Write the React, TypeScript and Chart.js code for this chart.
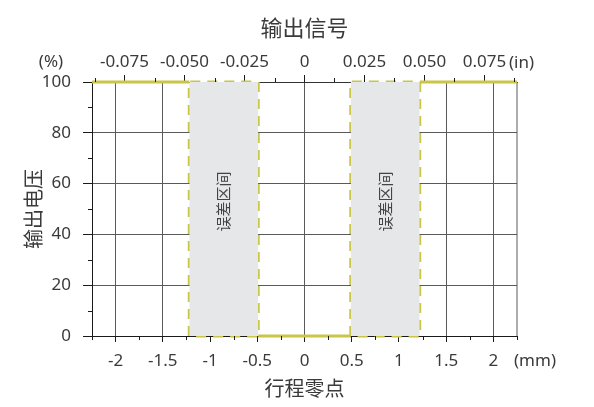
import { useEffect, useRef } from "react"
import { Chart, registerables } from "chart.js"

Chart.register(...registerables)

// axis ticks
const mmTicks = [-2, -1.5, -1, -0.5, 0, 0.5, 1, 1.5, 2]
const mmMinorTicks = [-2.25, -1.75, -1.25, -0.75, -0.25, 0.25, 0.75, 1.25, 1.75, 2.25]
const inchTicks = [-0.075, -0.05, -0.025, 0, 0.025, 0.05, 0.075]
const inchMinorTicks = [-0.0875, -0.0625, -0.0375, -0.0125, 0.0125, 0.0375, 0.0625, 0.0875]
const percentTicks = [0, 20, 40, 60, 80, 100]
const percentMinorTicks = [10, 30, 50, 70, 90]

const strokeMin = -2.25
const strokeMax = 2.25
const mmPerInch = 25.4

// output signal (mm -> %)
const highLeftX = [-2.25, -1.22]
const lowMiddleX = [-0.49, 0.49]
const highRightX = [1.22, 2.25]
const highLevel = 100
const lowLevel = 0

// tolerance zones
const zoneStarts = [-1.22, 0.49]
const zoneEnds = [-0.49, 1.22]
const zoneLabel = "误差区间"
const zoneLabelLevel = 53

const YELLOW = "#cac546"
const ZONE_GRAY = "#e6e7e8"
const GRID = "#5a5a5a"
const AXIS = "#1a1a1a"
const TEXT = "#3a3a3a"
const NUM_FONT = "'Noto Sans', 'Noto Sans CJK SC', sans-serif"
const CJK_FONT = "'Noto Sans CJK SC', sans-serif"

const toPoints = (xs: number[], y: number) => xs.map(x => ({ x, y }))

const extras = {
    id: "extras",
    beforeDatasetsDraw(chart: any) {
        const { ctx, chartArea } = chart
        ctx.save()
        ctx.strokeStyle = GRID
        ctx.lineWidth = 1
        ctx.beginPath()
        ctx.moveTo(chartArea.right, chartArea.top)
        ctx.lineTo(chartArea.right, chartArea.bottom)
        ctx.stroke()
        ctx.restore()
    },
    afterDatasetsDraw(chart: any) {
        const { ctx } = chart
        const xs = chart.scales.x
        const ys = chart.scales.y
        ctx.save()
        ctx.fillStyle = "#444"
        ctx.font = `15px ${CJK_FONT}`
        ctx.textAlign = "center"
        ctx.textBaseline = "middle"
        zoneStarts.forEach((s, i) => {
            const px = xs.getPixelForValue((s + zoneEnds[i]) / 2)
            const py = ys.getPixelForValue(zoneLabelLevel)
            ctx.save()
            ctx.translate(px, py)
            ctx.rotate(-Math.PI / 2)
            ctx.fillText(zoneLabel, 0, 0)
            ctx.restore()
        })
        ctx.restore()
    },
    afterDraw(chart: any) {
        const { ctx, chartArea } = chart
        const xs = chart.scales.x
        const xt = chart.scales.xTop
        const ys = chart.scales.y
        ctx.save()
        ctx.strokeStyle = AXIS
        ctx.lineWidth = 1
        ctx.beginPath()
        mmMinorTicks.forEach(v => {
            const p = Math.round(xs.getPixelForValue(v)) + 0.5
            ctx.moveTo(p, chartArea.bottom)
            ctx.lineTo(p, chartArea.bottom + 4)
        })
        inchMinorTicks.forEach(v => {
            const p = Math.round(xt.getPixelForValue(v)) + 0.5
            ctx.moveTo(p, chartArea.top)
            ctx.lineTo(p, chartArea.top - 4)
        })
        percentMinorTicks.forEach(v => {
            const p = Math.round(ys.getPixelForValue(v)) + 0.5
            ctx.moveTo(chartArea.left, p)
            ctx.lineTo(chartArea.left - 4, p)
        })
        ctx.stroke()

        ctx.fillStyle = TEXT
        ctx.font = `17px ${NUM_FONT}`
        ctx.textBaseline = "middle"
        ctx.textAlign = "left"
        ctx.fillText("(mm)", chartArea.right - 3, chartArea.bottom + 25)
        ctx.fillText("(in)", chartArea.right - 8, chartArea.top - 19)
        ctx.textAlign = "center"
        ctx.fillText("(%)", 51, chartArea.top - 20)
        ctx.restore()
    },
}

const SignalChart = () => {
    const canvasRef = useRef<HTMLCanvasElement | null>(null)

    useEffect(() => {
        document.body.style.margin = "0"
        if (!canvasRef.current) return

        const zoneFills = zoneStarts.map((s, i) => ({
            data: toPoints([s, zoneEnds[i]], highLevel),
            fill: "origin",
            backgroundColor: ZONE_GRAY,
            borderWidth: 0,
            pointRadius: 0,
        }))
        const zoneBorders = zoneStarts.map((s, i) => ({
            data: [
                { x: s, y: lowLevel },
                { x: s, y: highLevel },
                { x: zoneEnds[i], y: highLevel },
                { x: zoneEnds[i], y: lowLevel },
                { x: s, y: lowLevel },
            ],
            fill: false,
            borderColor: YELLOW,
            borderWidth: 3,
            borderDash: [10, 7],
            pointRadius: 0,
        }))
        const signal = [toPoints(highLeftX, highLevel), toPoints(lowMiddleX, lowLevel), toPoints(highRightX, highLevel)].map(data => ({
            data,
            fill: false,
            borderColor: YELLOW,
            borderWidth: 3,
            pointRadius: 0,
        }))

        const tickFont = { family: NUM_FONT, size: 17 }

        const chart = new Chart(canvasRef.current, {
            type: "line",
            data: { datasets: [...zoneFills, ...zoneBorders, ...signal] as any },
            options: {
                animation: false,
                responsive: false,
                events: [],
                clip: false as any,
                layout: { padding: { left: 0, right: 77, top: 0, bottom: 0 } },
                plugins: { legend: { display: false }, tooltip: { enabled: false } },
                scales: {
                    x: {
                        type: "linear",
                        position: "bottom",
                        min: strokeMin,
                        max: strokeMax,
                        afterBuildTicks: (s: any) => { s.ticks = mmTicks.map(value => ({ value })) },
                        afterFit: (s: any) => { s.height = 71 },
                        grid: { color: GRID, lineWidth: 1, tickLength: 6, tickColor: AXIS },
                        border: { color: AXIS, width: 1 },
                        ticks: { font: tickFont, color: TEXT, padding: 9, autoSkip: false, maxRotation: 0, callback: (v: any) => String(v) },
                        title: { display: true, text: "行程零点", font: { family: CJK_FONT, size: 20 }, color: TEXT, padding: { top: 0, bottom: 7 } },
                    },
                    xTop: {
                        type: "linear",
                        position: "top",
                        min: strokeMin / mmPerInch,
                        max: strokeMax / mmPerInch,
                        afterBuildTicks: (s: any) => { s.ticks = inchTicks.map(value => ({ value })) },
                        afterFit: (s: any) => { s.height = 82 },
                        grid: { drawOnChartArea: false, tickLength: 7, tickColor: AXIS },
                        border: { color: "#333", width: 1 },
                        ticks: { font: tickFont, color: TEXT, padding: 3, autoSkip: false, maxRotation: 0, callback: (v: any) => (v === 0 ? "0" : Number(v).toFixed(3)) },
                        title: { display: true, text: "输出信号", font: { family: CJK_FONT, size: 22 }, color: TEXT, padding: { top: 14, bottom: 0 } },
                    },
                    y: {
                        type: "linear",
                        position: "left",
                        min: 0,
                        max: 100,
                        afterBuildTicks: (s: any) => { s.ticks = percentTicks.map(value => ({ value })) },
                        afterFit: (s: any) => { s.width = 92 },
                        grid: { color: GRID, lineWidth: 1, tickLength: 9, tickColor: AXIS },
                        border: { color: AXIS, width: 1 },
                        ticks: { font: tickFont, color: TEXT, padding: 12 },
                        title: { display: true, text: "输出电压", font: { family: CJK_FONT, size: 20 }, color: TEXT, padding: { top: 21, bottom: 0 } },
                    },
                },
            },
            plugins: [extras],
        })

        return () => {
            chart.destroy()
        }
    }, [])

    return (
        <div style={{ width: 594, height: 407, background: "#fff" }}>
            <canvas ref={canvasRef} width={594} height={407} style={{ display: "block" }}></canvas>
        </div>
    )
}

export default function App() {
    return <SignalChart />
}
